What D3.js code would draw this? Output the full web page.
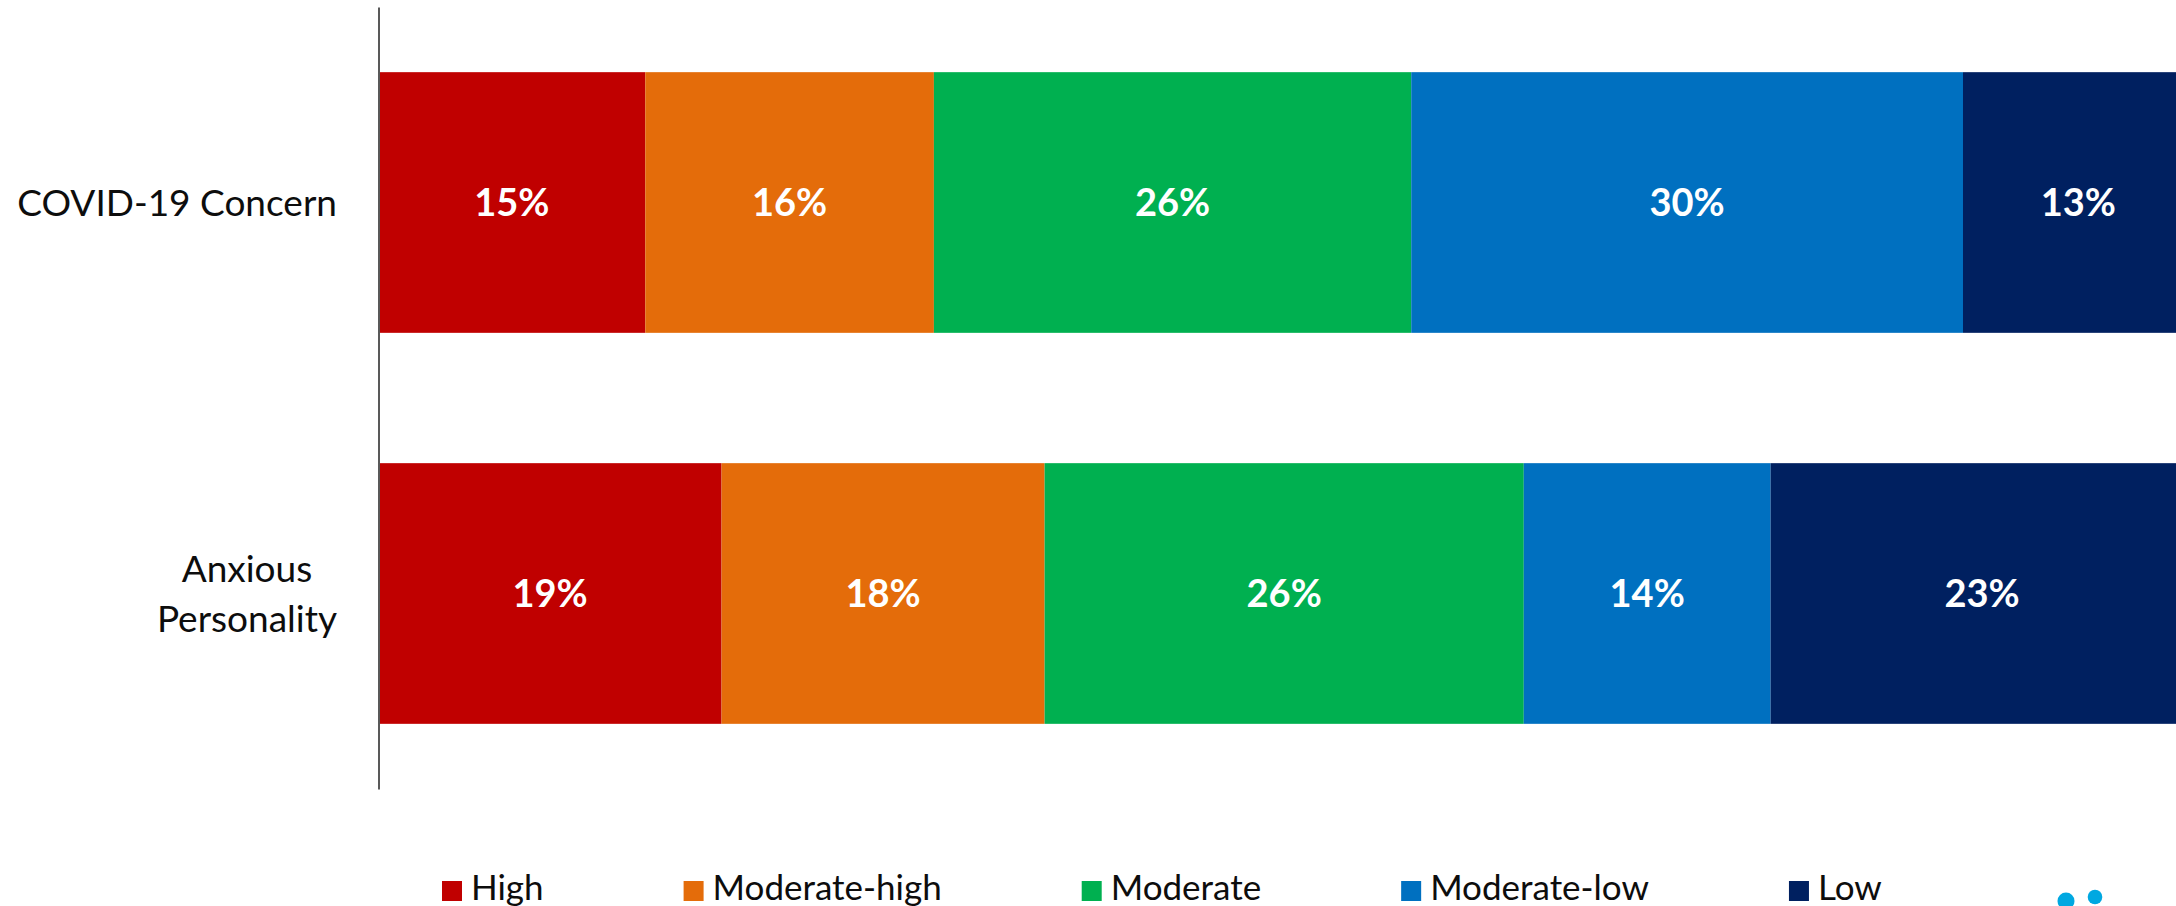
<!DOCTYPE html>
<html>
<head>
<meta charset="utf-8">
<script src="https://cdn.jsdelivr.net/npm/d3@7"></script>
<style>
  html, body { margin: 0; padding: 0; background: #ffffff; overflow: hidden; }
  svg { display: block; }
  text { font-family: Lato, "Open Sans", sans-serif; }
</style>
</head>
<body>
<svg id="chart" width="2176" height="906"></svg>
<script>
// ---- data ----
const categories = ["COVID-19 Concern", "Anxious Personality"];
const seriesNames = ["High", "Moderate-high", "Moderate", "Moderate-low", "Low"];
const covidValues = [14.7, 15.9, 26.3, 30.4, 12.7];
const anxiousValues = [18.9, 17.8, 26.4, 13.6, 23.3];
const seriesColors = ["#C00000", "#E46C0A", "#00B050", "#0070C0", "#002060"];

// ---- layout ----
const W = 2176, H = 906;
const svg = d3.select("#chart");
const x0 = 378.5, pxPerPct = 18.15;

const x = d3.scaleLinear().domain([0, 100]).range([x0, x0 + 100 * pxPerPct]);
const y = d3.scaleBand().domain(categories).range([7, 789]).paddingInner(1 / 3).paddingOuter(1 / 6);
const color = d3.scaleOrdinal().domain(seriesNames).range(seriesColors);

const rows = [covidValues, anxiousValues].map((vals, i) => {
  const obj = { category: categories[i] };
  seriesNames.forEach((s, j) => obj[s] = vals[j]);
  return obj;
});
const stacked = d3.stack().keys(seriesNames)(rows);

const layers = svg.append("g").selectAll("g")
  .data(stacked).join("g")
  .attr("fill", d => color(d.key));

layers.selectAll("rect")
  .data(d => d.map(p => ({ p, key: d.key })))
  .join("rect")
  .attr("x", d => x(d.p[0]))
  .attr("y", d => y(d.p.data.category))
  .attr("width", d => x(d.p[1]) - x(d.p[0]))
  .attr("height", y.bandwidth());

// value labels
const labelG = svg.append("g");
stacked.forEach(layer => {
  layer.forEach(p => {
    const v = p[1] - p[0];
    labelG.append("text")
      .attr("x", (x(p[0]) + x(p[1])) / 2)
      .attr("y", y(p.data.category) + y.bandwidth() / 2)
      .attr("dy", "0.36em")
      .attr("text-anchor", "middle")
      .attr("fill", "#ffffff")
      .attr("font-weight", "bold")
      .attr("font-size", 38)
      .text(Math.round(v) + "%");
  });
});

// y axis
const axisG = svg.append("g")
  .attr("transform", `translate(${x0},0)`)
  .call(d3.axisLeft(y).tickSize(0).tickSizeOuter(0).tickFormat(""));
axisG.select(".domain").attr("stroke", "#595959").attr("stroke-width", 2);

// category labels (right-edge aligned block, lines centered)
const labelRight = 337;
const lineSplits = { "COVID-19 Concern": ["COVID-19 Concern"], "Anxious Personality": ["Anxious", "Personality"] };
const lineH = 50;
categories.forEach(cat => {
  const lines = lineSplits[cat];
  const t = svg.append("text")
    .attr("font-size", 37)
    .attr("fill", "#0d0d0d")
    .attr("text-anchor", "middle");
  const cy = y(cat) + y.bandwidth() / 2;
  const spans = lines.map((ln, i) => t.append("tspan")
    .attr("y", cy + (i - (lines.length - 1) / 2) * lineH)
    .attr("dy", "0.36em")
    .text(ln));
  const maxW = d3.max(spans, s => s.node().getComputedTextLength());
  spans.forEach(s => s.attr("x", labelRight - maxW / 2));
});

// legend
const legend = svg.append("g");
let lx = 442;
seriesNames.forEach(name => {
  const g = legend.append("g");
  g.append("rect").attr("x", lx).attr("y", 881).attr("width", 20).attr("height", 20).attr("fill", color(name));
  const t = g.append("text").attr("x", lx + 29).attr("y", 900)
    .attr("font-size", 35).attr("fill", "#0d0d0d").text(name);
  lx += 29 + t.node().getComputedTextLength() + 140;
});

// decorative logo dots at bottom right
svg.append("circle").attr("cx", 2066).attr("cy", 901).attr("r", 8.5).attr("fill", "#00A8E1");
svg.append("circle").attr("cx", 2095).attr("cy", 897).attr("r", 7.3).attr("fill", "#00A8E1");
</script>
</body>
</html>
